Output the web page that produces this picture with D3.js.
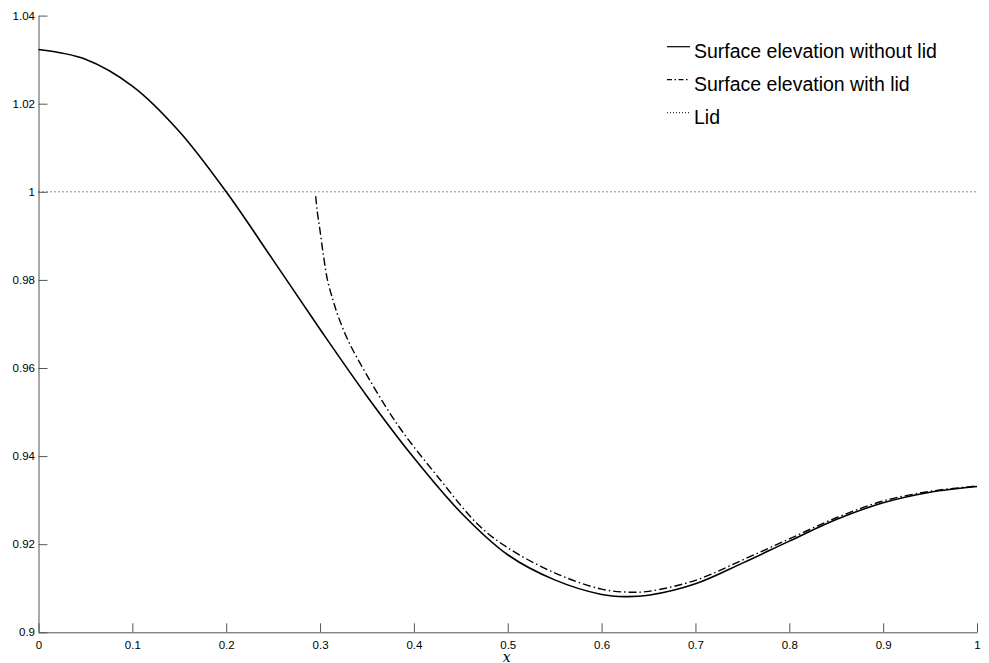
<!DOCTYPE html>
<html>
<head>
<meta charset="utf-8">
<script src="https://cdn.jsdelivr.net/npm/d3@7"></script>
<style>
  html, body { margin: 0; padding: 0; background: #fff; }
  svg { display: block; font-family: "Liberation Sans", Arial, Helvetica, sans-serif; }
</style>
</head>
<body>
<svg id="chart" width="989" height="663"></svg>
<script>
// ---- data ----
const withoutLidX = [0, 0.05, 0.1, 0.15, 0.2, 0.25, 0.3, 0.35, 0.4, 0.45, 0.5, 0.55, 0.6, 0.625, 0.65, 0.7, 0.75, 0.8, 0.85, 0.9, 0.95, 1.0];
const withoutLidY = [1.0323, 1.0301, 1.0240, 1.0137, 1.0000, 0.9845, 0.9688, 0.9536, 0.9396, 0.9272, 0.9176, 0.9119, 0.9086, 0.9081, 0.9084, 0.9110, 0.9157, 0.9207, 0.9256, 0.9294, 0.9318, 0.9331];

const withLidX = [0.2954, 0.2968, 0.2999, 0.3037, 0.3079, 0.3138, 0.3194, 0.3298, 0.3426, 0.3817, 0.4278, 0.4686, 0.5, 0.55, 0.6, 0.63, 0.65, 0.7, 0.75, 0.8, 0.85, 0.9, 0.95, 1.0];
const withLidY = [0.9990, 0.9959, 0.9913, 0.9854, 0.9800, 0.9754, 0.9717, 0.9663, 0.9611, 0.9474, 0.9347, 0.9244, 0.9192, 0.9135, 0.9098, 0.9091, 0.9093, 0.9118, 0.9164, 0.9212, 0.9260, 0.9298, 0.9320, 0.9332];

const lidX = [0, 1];
const lidY = [1, 1];

const xTicks = [0, 0.1, 0.2, 0.3, 0.4, 0.5, 0.6, 0.7, 0.8, 0.9, 1];
const yTicks = [0.9, 0.92, 0.94, 0.96, 0.98, 1, 1.02, 1.04];
const yTickLabels = ["0.9", "0.92", "0.94", "0.96", "0.98", "1", "1.02", "1.04"];

const seriesNames = ["Surface elevation without lid", "Surface elevation with lid", "Lid"];

// ---- drawing ----
const svg = d3.select("#chart");
const plotLeft = 38.5, plotRight = 977, plotTop = 15.6, plotBottom = 632.3;

const x = d3.scaleLinear().domain([0, 1]).range([plotLeft, plotRight]);
const y = d3.scaleLinear().domain([0.9, 1.04]).range([plotBottom, plotTop]);

const axisColor = "#555";

const xAxis = d3.axisBottom(x).tickValues(xTicks).tickFormat(d3.format("~g"))
  .tickSizeInner(-9).tickSizeOuter(0).tickPadding(8.5);
const yAxis = d3.axisLeft(y).tickValues(yTicks).tickFormat((d, i) => yTickLabels[i])
  .tickSizeInner(-9).tickSizeOuter(0).tickPadding(3.5);

const gx = svg.append("g").attr("transform", `translate(0,${plotBottom})`).call(xAxis);
const gy = svg.append("g").attr("transform", `translate(${plotLeft},0)`).call(yAxis);
[gx, gy].forEach(g => {
  g.select(".domain").attr("stroke", axisColor).attr("stroke-width", 1);
  g.selectAll(".tick line").attr("stroke", axisColor).attr("stroke-width", 1);
  g.selectAll(".tick text").attr("fill", "#000").attr("font-size", 11.5)
    .attr("font-family", "'Liberation Sans', Arial, sans-serif");
});

// x label
svg.append("text")
  .attr("x", x(0.5) - 1).attr("y", 662)
  .attr("text-anchor", "middle")
  .attr("font-family", "'DejaVu Serif', 'Liberation Serif', serif")
  .attr("font-style", "italic")
  .attr("font-size", 14)
  .attr("fill", "#000")
  .text("x");

const zip = (a, b) => a.map((v, i) => [v, b[i]]);
const line = d3.line().x(d => x(d[0])).y(d => y(d[1])).curve(d3.curveCatmullRom.alpha(0.5));

// Lid (dotted)
svg.append("path")
  .datum(zip(lidX, lidY))
  .attr("d", d3.line().x(d => x(d[0])).y(d => y(d[1])))
  .attr("fill", "none").attr("stroke", "#222").attr("stroke-width", 1)
  .attr("stroke-dasharray", "1,3");

// without lid (solid)
svg.append("path")
  .datum(zip(withoutLidX, withoutLidY))
  .attr("d", line)
  .attr("fill", "none").attr("stroke", "#000").attr("stroke-width", 1.6);

// with lid (dash-dot)
svg.append("path")
  .datum(zip(withLidX, withLidY))
  .attr("d", line)
  .attr("fill", "none").attr("stroke", "#000").attr("stroke-width", 1.4)
  .attr("stroke-dasharray", "8,3,1.5,3");

// legend
const legendStyles = [
  { dash: null, width: 1.2 },
  { dash: "5,2.5,1.5,2.5", width: 1.2 },
  { dash: "1,2", width: 1 }
];
const legend = svg.append("g");
seriesNames.forEach((name, i) => {
  const ly = 46.7 + i * 33;
  legend.append("line")
    .attr("x1", 667).attr("x2", 690).attr("y1", ly).attr("y2", ly)
    .attr("stroke", "#000").attr("stroke-width", legendStyles[i].width)
    .attr("stroke-dasharray", legendStyles[i].dash);
  legend.append("text")
    .attr("x", 694).attr("y", ly + 11.6)
    .attr("font-size", 19.5)
    .attr("fill", "#000")
    .text(name);
});
</script>
</body>
</html>
